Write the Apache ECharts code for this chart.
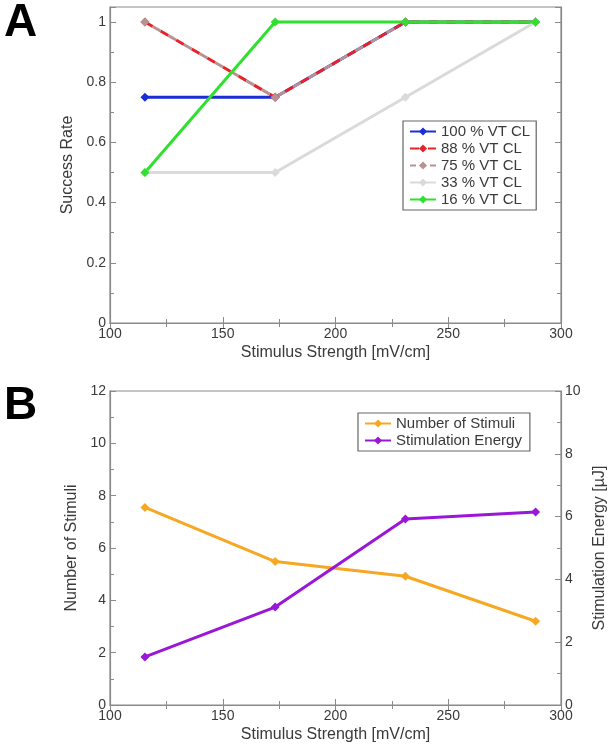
<!DOCTYPE html>
<html>
<head>
<meta charset="utf-8">
<script src="https://cdn.jsdelivr.net/npm/echarts@6/dist/echarts.min.js"></script>
<style>html,body{margin:0;padding:0;background:#fff}#c{width:609px;height:750px}</style>
</head>
<body>
<div id="c"></div>
<script>
// Panel A data
const stimulusA = [115.5, 173.25, 231, 288.75];
const vt100 = [0.75, 0.75, 1, 1];
const vt88 = [1, 0.75, 1, 1];
const vt75 = [1, 0.75, 1, 1];
const vt33 = [0.5, 0.5, 0.75, 1];
const vt16 = [0.5, 1, 1, 1];
const seriesNamesA = ['100 % VT CL', '88 % VT CL', '75 % VT CL', '33 % VT CL', '16 % VT CL'];
// Panel B data
const stimulusB = [115.5, 173.25, 231, 288.75];
const numStimuli = [7.55, 5.48, 4.92, 3.2];
const stimEnergy = [1.53, 3.12, 5.92, 6.15];
const seriesNamesB = ['Number of Stimuli', 'Stimulation Energy'];

const font = 'Liberation Sans, Arial, sans-serif';
const txt = '#3a3a3a';
const frame = '#8a8a8a';

function pts(xs, ys) { return xs.map((x, i) => [x, ys[i]]); }

function xAxisDef(grid, pos, show) {
  return {
    type: 'value', gridIndex: grid, position: pos, min: 100, max: 300, interval: 50,
    axisLine: { show: true, lineStyle: { color: frame, width: 1.2 } },
    axisTick: { show: true, inside: true, length: 6, lineStyle: { color: frame } },
    minorTick: { show: true, splitNumber: 2, length: 4, lineStyle: { color: frame } },
    splitLine: { show: false },
    axisLabel: { show: show, color: txt, fontFamily: font, fontSize: 14, margin: 4 },
    name: show ? 'Stimulus Strength [mV/cm]' : '',
    nameLocation: 'middle', nameGap: 22,
    nameTextStyle: { color: txt, fontFamily: font, fontSize: 16 }
  };
}
function yAxisDef(grid, pos, min, max, interval, show, name, fmt) {
  return {
    type: 'value', gridIndex: grid, position: pos, min: min, max: max, interval: interval,
    axisLine: { show: true, lineStyle: { color: frame, width: 1.2 } },
    axisTick: { show: true, inside: true, length: 6, lineStyle: { color: frame } },
    minorTick: { show: true, splitNumber: 2, length: 4, lineStyle: { color: frame } },
    splitLine: { show: false },
    axisLabel: { show: show, color: txt, fontFamily: font, fontSize: 14, margin: 4, showMaxLabel: max % interval === 0, formatter: fmt },
    name: name, nameLocation: 'middle', nameGap: 28, nameRotate: 90,
    nameTextStyle: { color: txt, fontFamily: font, fontSize: 16 }
  };
}

function lineSeries(name, data, color, xi, yi, opts) {
  return Object.assign({
    name: name, type: 'line', xAxisIndex: xi, yAxisIndex: yi, data: data,
    symbol: 'diamond', symbolSize: 9, showSymbol: true,
    itemStyle: { color: color },
    lineStyle: { color: color, width: 3 },
    emphasis: { disabled: true }, animation: false
  }, opts || {});
}

const legendItemsA = seriesNamesA.map((n, i) => i === 2 ? { name: n, lineStyle: { type: [6, 4], dashOffset: 0 } } : { name: n });

const chart = echarts.init(document.getElementById('c'), null, { renderer: 'canvas' });
chart.setOption({
  backgroundColor: '#fff',
  animation: false,
  grid: [
    { left: 110, top: 7, width: 451, height: 316, show: true, borderColor: frame, borderWidth: 1.2, outerBoundsMode: 'none', containLabel: false },
    { left: 110, top: 391, width: 451, height: 314, show: true, borderColor: frame, borderWidth: 1.2, outerBoundsMode: 'none', containLabel: false }
  ],
  xAxis: [
    xAxisDef(0, 'bottom', true),
    xAxisDef(0, 'top', false),
    xAxisDef(1, 'bottom', true),
    xAxisDef(1, 'top', false)
  ],
  yAxis: [
    yAxisDef(0, 'left', 0, 1.05, 0.2, true, 'Success Rate', v => (Math.round(v * 10) / 10).toString()),
    yAxisDef(0, 'right', 0, 1.05, 0.2, false, ''),
    yAxisDef(1, 'left', 0, 12, 2, true, 'Number of Stimuli'),
    Object.assign(yAxisDef(1, 'right', 0, 10, 2, true, 'Stimulation Energy [µJ]'), { nameGap: 27 })
  ],
  legend: [
    {
      data: legendItemsA, orient: 'vertical', left: 403, top: 121, itemGap: 2,
      itemWidth: 26, itemHeight: 10, padding: [3, 6, 3, 6],
      borderColor: '#666', borderWidth: 1.2, backgroundColor: '#fff',
      textStyle: { color: txt, fontFamily: font, fontSize: 15 },
      selectedMode: false
    },
    {
      data: seriesNamesB, orient: 'vertical', left: 358, top: 413, itemGap: 2,
      itemWidth: 26, itemHeight: 10, padding: [3, 8, 3, 6],
      borderColor: '#666', borderWidth: 1.2, backgroundColor: '#fff',
      textStyle: { color: txt, fontFamily: font, fontSize: 15 },
      selectedMode: false
    }
  ],
  graphic: [
    { type: 'text', left: 4, top: 0, style: { text: 'A', font: 'bold 46px ' + font, fill: '#000' } },
    { type: 'text', left: 4, top: 383, style: { text: 'B', font: 'bold 46px ' + font, fill: '#000' } }
  ],
  series: [
    lineSeries(seriesNamesA[0], pts(stimulusA, vt100), '#1a2ed6', 0, 0),
    lineSeries(seriesNamesA[1], pts(stimulusA, vt88), '#e8222a', 0, 0, { lineStyle: { color: '#e8222a', width: 3, type: [9, 9] } }),
    lineSeries(seriesNamesA[2], pts(stimulusA, vt75), '#b89292', 0, 0, { lineStyle: { color: '#b89292', width: 3, type: [9, 9], dashOffset: 9 } }),
    lineSeries(seriesNamesA[3], pts(stimulusA, vt33), '#dadada', 0, 0),
    lineSeries(seriesNamesA[4], pts(stimulusA, vt16), '#2fe02f', 0, 0),
    lineSeries(seriesNamesB[0], pts(stimulusB, numStimuli), '#f7a823', 2, 2),
    lineSeries(seriesNamesB[1], pts(stimulusB, stimEnergy), '#9a17d8', 2, 3)
  ]
});
</script>
</body>
</html>
